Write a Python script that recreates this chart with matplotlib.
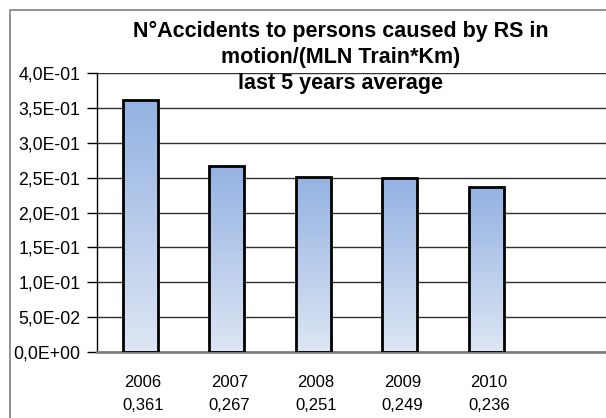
import numpy as np
import matplotlib.pyplot as plt
from matplotlib.colors import LinearSegmentedColormap
from matplotlib.patches import Rectangle
from matplotlib.ticker import FuncFormatter

# Datos
anios = ['2006', '2007', '2008', '2009', '2010']
valores = [0.361, 0.267, 0.251, 0.249, 0.236]
etiquetas_valor = ['0,361', '0,267', '0,251', '0,249', '0,236']

plt.rcParams['font.family'] = ['Liberation Sans', 'DejaVu Sans']

fig = plt.figure(figsize=(6.06, 4.18), dpi=100)
# Borde exterior del grafico
fig.patches.append(Rectangle((10/606, -0.1), 1.2, (418-10)/418 + 0.1,
                             transform=fig.transFigure, fill=False,
                             edgecolor='#7f7f7f', linewidth=1.2))

ax = fig.add_axes([97/606, (418-352)/418, 519/606, (352-73)/418])

x = np.arange(len(anios))
barras = ax.bar(x, valores, width=0.4, color='none', edgecolor='black',
                linewidth=2, zorder=3)

# Degradado en las barras
cmap = LinearSegmentedColormap.from_list('azul', ['#dde6f4', '#94b2e2'])
grad = np.linspace(0, 1, 256).reshape(-1, 1)
for b in barras:
    x0, y0 = b.get_x(), b.get_y()
    w, h = b.get_width(), b.get_height()
    im = ax.imshow(grad, cmap=cmap, origin='lower', aspect='auto',
                   extent=(x0, x0 + w, y0, y0 + h), zorder=2)
    im.set_clip_path(b)

ax.set_xlim(-0.5, 5.5)
ax.set_ylim(0, 0.4)
ax.set_yticks(np.arange(0, 0.401, 0.05))
ax.yaxis.set_major_formatter(FuncFormatter(
    lambda v, p: f'{v:.1E}'.replace('.', ',')))
ax.grid(axis='y', color='#303030', linewidth=1, zorder=0)

# Etiquetas del eje x (anio y valor)
ax.set_xticks(x)
ax.set_xticklabels([])
ax.tick_params(axis='x', length=0)
trans = ax.get_xaxis_transform()
for xi, a, e in zip(x, anios, etiquetas_valor):
    ax.text(xi + 0.03, -0.11, a, transform=trans, ha='center', va='center',
            fontsize=12)
    ax.text(xi + 0.03, -0.19, e, transform=trans, ha='center', va='center',
            fontsize=12)

ax.tick_params(axis='y', length=7, width=1, labelsize=12.7, pad=5)

for lado in ['top', 'right']:
    ax.spines[lado].set_visible(False)
ax.spines['left'].set_linewidth(1)
ax.spines['bottom'].set_color('#808080')
ax.spines['bottom'].set_linewidth(2)

fig.text(341/606, 1 - 21/418,
         'N°Accidents to persons caused by RS in\nmotion/(MLN Train*Km)\nlast 5 years average',
         ha='center', va='top', fontsize=15.5, fontweight='bold', linespacing=1.3)

fig.savefig('out.png', dpi=100)
